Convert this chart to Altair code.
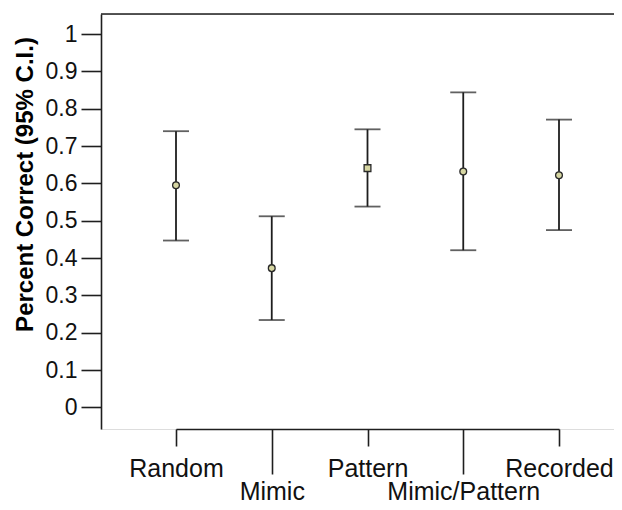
import altair as alt
import pandas as pd

conditions = ["Random", "Mimic", "Pattern", "Mimic/Pattern", "Recorded"]
means = [0.595, 0.373, 0.641, 0.632, 0.622]
lower = [0.447, 0.234, 0.538, 0.421, 0.475]
upper = [0.740, 0.512, 0.745, 0.844, 0.771]
shapes = ["circle", "circle", "square", "circle", "circle"]
y_ticks = [0, 0.1, 0.2, 0.3, 0.4, 0.5, 0.6, 0.7, 0.8, 0.9, 1]

df = pd.DataFrame({"cond": conditions, "mean": means, "lo": lower, "hi": upper, "shape": shapes})

W = 513
H = 415
FONT = "Liberation Sans"
INK = "#1e1e1e"
low_row = "indexof(['Mimic','Mimic/Pattern'], datum.value) >= 0"

x_enc = alt.X(
    "cond:N",
    sort=conditions,
    scale=alt.Scale(type="point", range=[75, 458], padding=0),
    axis=alt.Axis(
        title=None,
        labelAngle=0,
        labelFont=FONT,
        labelFontSize=25,
        labelColor="#111",
        labelBaseline="top",
        domainColor=INK,
        domainWidth=1.6,
        tickColor=INK,
        tickWidth=1.6,
        tickSize={"condition": {"test": low_row, "value": 45}, "value": 17},
        labelPadding={"condition": {"test": low_row, "value": 5}, "value": 10},
    ),
)

y_scale = alt.Scale(domain=[-0.058, 1.054], nice=False, zero=False)

y_enc = alt.Y(
    "mean:Q",
    scale=y_scale,
    axis=alt.Axis(
        values=y_ticks,
        format="~g",
        grid=False,
        title="Percent Correct (95% C.I.)",
        titleFont=FONT,
        titleFontSize=24,
        titleFontWeight="bold",
        titleColor="#000",
        titleAngle=270,
        titleAlign="center",
        titleBaseline="alphabetic",
        titleX=-69,
        titleY=170,
        labelFont=FONT,
        labelFontSize=23,
        labelColor="#111",
        labelPadding=4,
        tickSize=20,
        tickColor=INK,
        tickWidth=1.6,
        domainColor=INK,
        domainWidth=1.6,
    ),
)

base = alt.Chart(df)

bars = base.mark_rule(color=INK, strokeWidth=1.8).encode(
    x=x_enc, y=alt.Y("lo:Q", scale=y_scale), y2="hi:Q"
)
cap_lo = base.mark_tick(color=INK, size=26, thickness=1.8, orient="horizontal").encode(
    x=x_enc, y=alt.Y("lo:Q", scale=y_scale)
)
cap_hi = base.mark_tick(color=INK, size=26, thickness=1.8, orient="horizontal").encode(
    x=x_enc, y=alt.Y("hi:Q", scale=y_scale)
)
pts = base.mark_point(filled=True, size=46, fill="#d6d6a2", stroke="#2a2a2a", strokeWidth=1.3, opacity=1).encode(
    x=x_enc, y=y_enc, shape=alt.Shape("shape:N", scale=None)
)
top_line = alt.Chart(pd.DataFrame({"k": [0]})).mark_rule(color=INK, strokeWidth=1.6).encode(
    x=alt.value(0), x2=alt.value(W), y=alt.value(0)
)

chart = (
    alt.layer(bars, cap_lo, cap_hi, pts, top_line)
    .properties(
        width=W,
        height=H,
        autosize=alt.AutoSizeParams(type="none"),
        padding={"left": 93, "top": 6, "right": 0, "bottom": 74},
    )
    .configure_view(stroke=None)
    .configure(background="white")
)

chart.save("out.html", embed_options={"renderer": "svg", "actions": False})
